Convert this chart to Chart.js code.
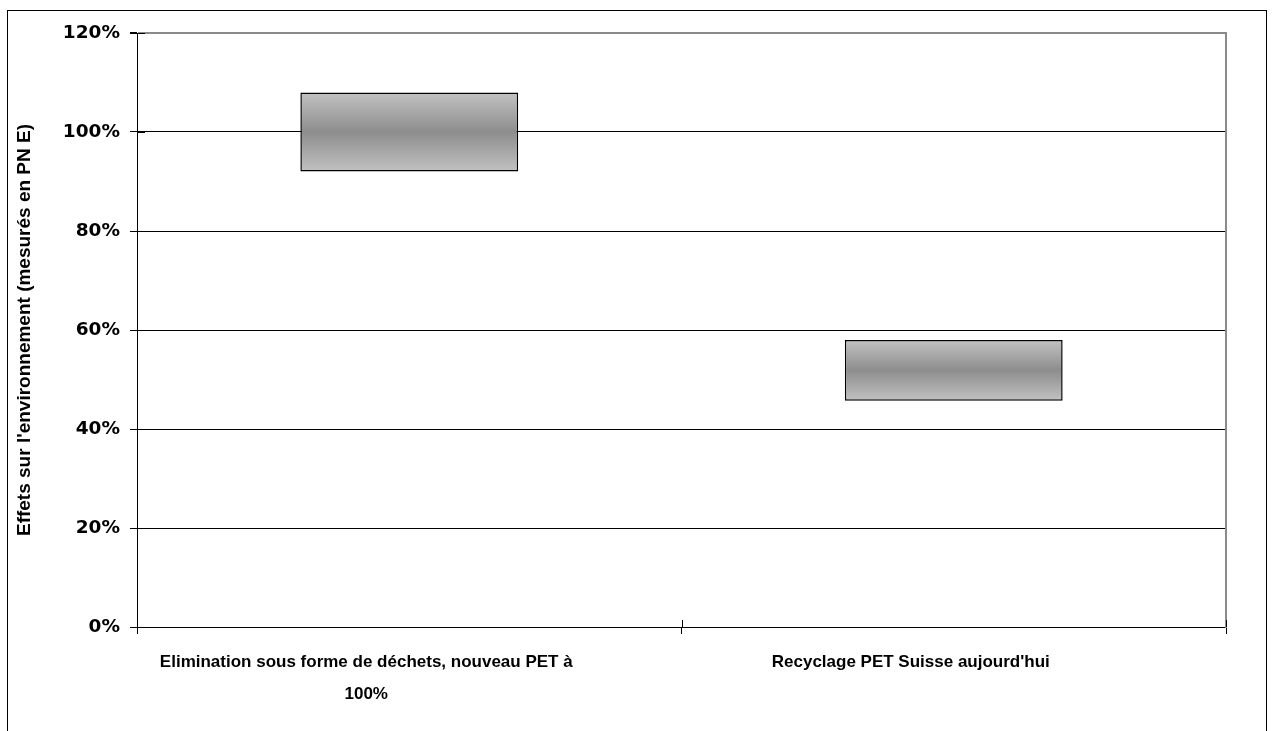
<!DOCTYPE html>
<html>
<head>
<meta charset="utf-8">
<script src="https://cdn.jsdelivr.net/npm/chart.js@4"></script>
<style>
  html, body { margin: 0; padding: 0; background: #fff; }
  #frame { position: absolute; left: 7px; top: 10px; width: 1260px; height: 760px; border: 1px solid #000; box-sizing: border-box; pointer-events: none; }
  #wrap { position: absolute; left: 0; top: 0; width: 1272px; height: 731px; }
</style>
</head>
<body>
<div id="frame"></div>
<div id="wrap"><canvas id="c"></canvas></div>
<script>
// Scenario labels (first one wraps onto two lines)
const categories = [
  ["Elimination sous forme de déchets, nouveau PET à", "100%"],
  "Recyclage PET Suisse aujourd'hui"
];
// Lower and upper bound of each range, in percent
const rangeLow  = [92, 45.7];
const rangeHigh = [108, 58];
// Value axis
const yMin = 0, yMax = 120, yStep = 20;
const yTitle = "Effets sur l'environnement (mesurés en PN E)";

const sans = "'Liberation Sans', Arial, sans-serif";

// Grey bar fill: light at both edges, darker through the middle
function barFill(ctx) {
  const chart = ctx.chart;
  if (!chart.chartArea || ctx.type !== 'data') return '#a8a8a8';
  const y = chart.scales.y;
  const v = ctx.raw;
  const top = y.getPixelForValue(Math.max(v[0], v[1]));
  const bot = y.getPixelForValue(Math.min(v[0], v[1]));
  const g = chart.ctx.createLinearGradient(0, top, 0, bot);
  g.addColorStop(0, '#c2c2c2');
  g.addColorStop(0.5, '#8d8d8d');
  g.addColorStop(1, '#c2c2c2');
  return g;
}

// Tick marks that cross into the plot area
const crossTicks = {
  id: 'crossTicks',
  afterDatasetsDraw(chart) {
    const { ctx, chartArea: a, scales: { x, y } } = chart;
    ctx.save();
    ctx.strokeStyle = '#000';
    ctx.lineWidth = 1;
    ctx.beginPath();
    for (let i = 0; i <= categories.length; i++) {
      const px = Math.round(x.getPixelForValue(i - 0.5)) + 0.5;
      ctx.moveTo(px, a.bottom);
      ctx.lineTo(px, a.bottom - 7);
    }
    y.ticks.forEach(t => {
      const py = Math.round(y.getPixelForValue(t.value)) + 0.5;
      ctx.moveTo(a.left, py);
      ctx.lineTo(a.left + 8, py);
    });
    ctx.stroke();
    ctx.restore();
  }
};

new Chart(document.getElementById('c'), {
  type: 'bar',
  data: {
    labels: categories,
    datasets: [{
      data: rangeLow.map((lo, i) => [lo, rangeHigh[i]]),
      backgroundColor: barFill,
      borderColor: '#000',
      borderWidth: 1.5,
      borderSkipped: false,
      categoryPercentage: 1,
      barPercentage: 0.4
    }]
  },
  options: {
    responsive: true,
    maintainAspectRatio: false,
    animation: false,
    layout: { padding: { top: 33, right: 46, bottom: 0, left: 0 } },
    plugins: { legend: { display: false }, tooltip: { enabled: false } },
    scales: {
      x: {
        offset: true,
        grid: { offset: true, drawOnChartArea: false, tickLength: 7, tickColor: '#000' },
        border: { color: '#000', width: 1 },
        ticks: {
          color: '#000',
          font: { family: sans, size: 17, weight: 'bold', lineHeight: 1.88 },
          labelOffset: -43,
          padding: 12,
          autoSkip: false,
          maxRotation: 0,
          minRotation: 0
        },
        afterFit(s) { s.height = 104; }
      },
      y: {
        min: yMin, max: yMax,
        grid: {
          color: c => (c.tick && c.tick.value === yMax) ? '#8a8a8a' : '#000',
          lineWidth: c => (c.tick && c.tick.value === yMax) ? 2 : 1,
          tickLength: 7,
          tickColor: '#000'
        },
        border: { color: '#000', width: 1 },
        ticks: {
          stepSize: yStep,
          color: '#000',
          padding: 10,
          font: { family: "'DejaVu Sans', sans-serif", size: 18.5, weight: 'bold' },
          callback: v => v + '%'
        },
        title: {
          display: true,
          text: yTitle,
          color: '#000',
          padding: { top: 13, bottom: 0 },
          font: { family: sans, size: 19, weight: 'bold' }
        },
        afterFit(s) { s.width = 137; }
      },
      yRight: {
        position: 'right',
        min: yMin, max: yMax,
        grid: { drawOnChartArea: false, drawTicks: false },
        border: { color: '#8a8a8a', width: 2 },
        ticks: { display: false },
        afterFit(s) { s.width = 0; }
      }
    }
  },
  plugins: [crossTicks]
});
</script>
</body>
</html>
